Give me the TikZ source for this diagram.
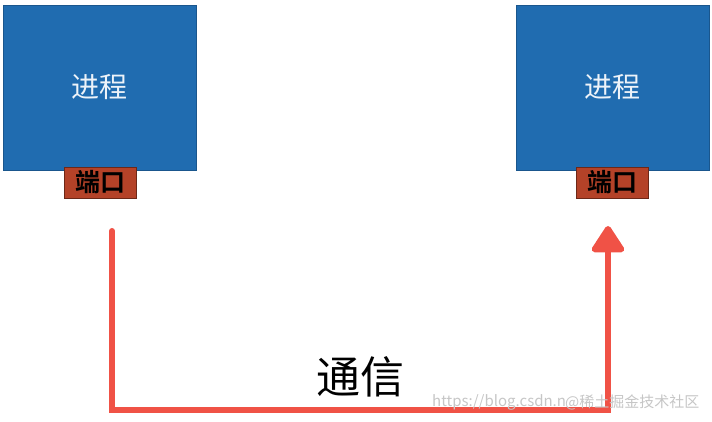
\documentclass[tikz,border=0pt]{standalone}
\usepackage{fontspec}
\newfontfamily\cjk{Noto Sans CJK SC}
\newfontfamily\cjkb{Noto Sans CJK SC Bold}
\usetikzlibrary{arrows.meta}
\definecolor{procblue}{RGB}{32,108,176}
\definecolor{portred}{RGB}{180,66,40}
\definecolor{linered}{RGB}{240,82,70}
\tikzset{
  procbox/.style={fill=procblue, draw=procblue!80!black, line width=0.6pt, minimum width=193pt, minimum height=165pt, inner sep=0pt, font=\cjk\fontsize{28}{30}\selectfont, text=white!92!procblue},
  portbox/.style={fill=portred, draw=portred!60!black, line width=0.8pt, minimum width=72pt, minimum height=31pt, inner sep=0pt, font=\cjkb\fontsize{25}{27}\selectfont, text=black},
  comm/.style={draw=linered, line width=6pt, line cap=round, line join=miter},
  wm/.style={text=gray!45, inner sep=0pt, font=\cjk\fontsize{15}{16}\selectfont}
}
\begin{document}
\begin{tikzpicture}[x=1pt,y=-1pt]
\useasboundingbox (0,0) rectangle (712,422);
\node[procbox] (p1) at (99.5,87.5) {进程};
\node[procbox] (p2) at (612.5,87.5) {进程};
\node[portbox] (q1) at (100,182.5) {端口};
\node[portbox] (q2) at (612.5,182.5) {端口};
\coordinate (s) at (112,231);
\coordinate (c1) at (112,410);
\coordinate (c2) at (608,410);
\coordinate (e) at (608,226);
\node[inner sep=0pt, font=\cjk\fontsize{44}{46}\selectfont] (t) at (360,377) {通信};
\draw[comm, -{Triangle[width=36pt,length=29pt,round]}] (s) -- (c1) -- (c2) -- (e);
\node[wm, anchor=west] (w1) at (432,402) {https://blog.csdn.n};
\node[wm, anchor=west] (w2) at (565,402) {@稀土掘金技术社区};
\end{tikzpicture}
\end{document}
